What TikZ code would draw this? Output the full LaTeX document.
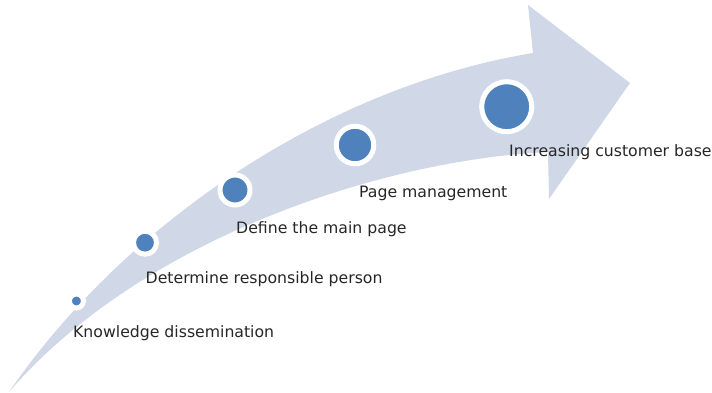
\documentclass[tikz,border=0pt]{standalone}
\usepackage{fontspec}
\setmainfont{DejaVu Sans}
\definecolor{bandblue}{RGB}{208,216,232}
\definecolor{dotblue}{RGB}{79,129,189}

\begin{document}
\begin{tikzpicture}[x=1pt,y=-1pt]
                \tikzstyle{every node}+=[inner sep=0pt]
                \tikzstyle{dot}=[circle, fill=dotblue, draw=white, line width=5pt]
                \tikzstyle{lbl}=[anchor=base west, font=\fontsize{15.7}{18}\selectfont, text=black!85]
                \useasboundingbox (0,0) rectangle (712,393);
                % curved arrow band
                \fill [bandblue] (9,392) .. controls (120,230) and (320,88) .. (533,53) -- (528,5) -- (630,83) -- (549,199) -- (548,152) .. controls (380,160) and (140,240) .. (9,392) -- cycle;
                % steps
                \node [dot, minimum size=14pt] (know) at (76.4,301) {};
                \node [dot, minimum size=23pt] (resp) at (145,242.7) {};
                \node [dot, minimum size=30pt] (main) at (235,190) {};
                \node [dot, minimum size=37.5pt] (manage) at (355,145) {};
                \node [dot, minimum size=50pt] (cust) at (506.7,106.7) {};
                \node [lbl] (knowtext) at (73,337) {Knowledge dissemination};
                \node [lbl] (resptext) at (145.5,283) {Determine responsible person};
                \node [lbl] (maintext) at (236,233) {Define the main page};
                \node [lbl] (managetext) at (359,197) {Page management};
                \node [lbl] (custtext) at (509,157) {Increasing customer base};
            \end{tikzpicture}
\end{document}
